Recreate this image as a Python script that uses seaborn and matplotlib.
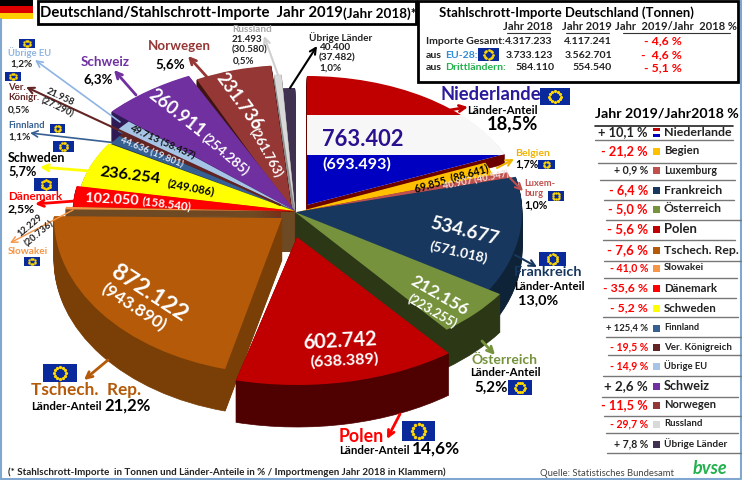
import numpy as np
import matplotlib
matplotlib.use("Agg")
import matplotlib.pyplot as plt
from matplotlib.patches import Wedge, Rectangle
from matplotlib.transforms import Affine2D
import seaborn as sns

# ==========================
# DATA
# ==========================
countries = ["Niederlande", "Begien", "Luxemburg", "Frankreich", "Österreich", "Polen",
             "Tschech. Rep.", "Slowakei", "Dänemark", "Schweden", "Finnland",
             "Ver. Königreich", "Übrige EU", "Schweiz", "Norwegen", "Russland", "Übrige Länder"]
imports_2019 = [763402, 69855, 40907, 534677, 212156, 602742, 872122, 12229, 102050,
                236254, 44636, 21958, 49713, 260911, 231736, 21493, 40400]
change_labels = ["+ 10,1 %", "- 21,2 %", "+ 0,9 %", "- 6,4 %", "- 5,0 %", "- 5,6 %", "- 7,6 %",
                 "- 41,0 %", "- 35,6 %", "- 5,2 %", "+ 125,4 %", "- 19,5 %", "- 14,9 %",
                 "+ 2,6 %", "- 11,5 %", "- 29,7 %", "+ 7,8 %"]
summary_rows = ["Importe Gesamt:", "aus", "aus"]
summary_2018 = ["4.317.233", "3.733.123", "584.110"]
summary_2019 = ["4.117.241", "3.562.701", "554.540"]
summary_change = ["- 4,6 %", "-  4,6 %", "- 5,1 %"]

# ==========================
# STYLE / LAYOUT
# ==========================
top_hex = ["#ffffff", "#ffc000", "#c0504d", "#17375e", "#76923c", "#c00000", "#b45a08", "#f79646",
           "#ff0000", "#ffff00", "#376092", "#632523", "#a6c4e6", "#7030a0", "#953735", "#d9d9d9", "#403151"]
side_hex = ["#6b0000", "#7a5c00", "#6b0000", "#0e2238", "#2c3716", "#4f0000", "#7a3f06", "#6e4a24",
            "#8a0000", "#8a8a00", "#1f3756", "#3a1514", "#5a7290", "#2f1a55", "#3e1412", "#8c8c8c", "#403151"]
# centre x, centre y (pixels), radii, depth per slice
cx = [307, 297, 297, 296, 295, 297, 282, 288, 295, 295, 295, 295, 295, 295, 292, 295, 295]
cy = [205, 212, 212, 212, 212, 237, 218, 211, 211, 211, 211, 211, 211, 211, 211, 211, 211]
rx = [215, 205, 220, 226, 245, 245, 228, 222, 222, 218, 215, 215, 222, 245, 220, 222, 200]
ry = [129, 125, 135, 150, 150, 148, 156, 135, 135, 130, 130, 130, 135, 150, 146, 137, 123]
depth = [10, 3, 18, 38, 38, 42, 42, 40, 6, 4, 2, 2, 2, 30, 42, 40, 40]
draw_order = [16, 15, 14, 13, 12, 11, 10, 9, 8, 7, 0, 1, 2, 3, 4, 6, 5]
FS = 0.8

sns.set_theme(style="white")
plt.rcParams["font.family"] = ["Lato", "DejaVu Sans"]
top_colors = sns.color_palette(top_hex)
side_colors = sns.color_palette(side_hex)

fig = plt.figure(figsize=(7.42, 4.8), dpi=100, facecolor="white")

# ==========================
# PIE
# ==========================
pie_ax = fig.add_axes([0, 0, 1, 1])
wedges, _ = pie_ax.pie(imports_2019, startangle=90, counterclock=False, colors=top_colors,
                       wedgeprops={"linewidth": 0})
pie_ax.set_aspect("auto")
pie_ax.set_xlim(0, 742)
pie_ax.set_ylim(0, 480)
pie_ax.axis("off")


def place(i, drop=0):
    return Affine2D().scale(rx[i], ry[i]).translate(cx[i], 480 - cy[i] - drop) + pie_ax.transData


for n, i in enumerate(draw_order):
    w = wedges[i]
    w.set_transform(place(i))
    w.set_zorder(10 + 2 * n + 1)
    for d in np.arange(depth[i], 0, -1):
        pie_ax.add_patch(Wedge((0, 0), 1, w.theta1, w.theta2, transform=place(i, d),
                               facecolor=side_colors[i], edgecolor=side_colors[i], lw=0.5,
                               zorder=10 + 2 * n))

# centre block under the apex
pie_ax.add_patch(Rectangle((281, 480 - 252), 15, 40, facecolor="#6e4a24", lw=0, zorder=10 + 2 * 9 + 0.5))

# Dutch flag on the first slice
for y0, y1, col in [(60, 115, "#c00000"), (115, 155, "#f7f7f7"), (155, 215, "#0000c0")]:
    r = Rectangle((300, 480 - y1), 220, y1 - y0, facecolor=col, lw=0,
                  zorder=wedges[0].get_zorder() + 0.5)
    pie_ax.add_patch(r)
    r.set_clip_path(wedges[0])

# ==========================
# OVERLAY (pixel coordinates)
# ==========================
ax = fig.add_axes([0, 0, 1, 1], facecolor="none")
ax.set_xlim(0, 742)
ax.set_ylim(480, 0)
ax.axis("off")


def txt(x, y, s, size=9, color="black", weight="bold", rot=0, ha="left", **kw):
    ax.text(x, y, s, fontsize=size * FS, color=color, fontweight=weight, rotation=rot, ha=ha,
            va="center", rotation_mode="anchor", zorder=6, **kw)


def ctxt(x, y, s, size, color="white", rot=0):
    txt(x, y, s, size, color, rot=rot, ha="center")


def arrow(x0, y0, x1, y1, color, lw=2.0):
    ax.annotate("", xy=(x1, y1), xytext=(x0, y0),
                arrowprops=dict(arrowstyle="->", color=color, lw=lw, shrinkA=0, shrinkB=0,
                                mutation_scale=11))


def eu_flag(x0, y0, x1, y1):
    ax.add_patch(Rectangle((x0, y0), x1 - x0, y1 - y0, facecolor="#0a2a9c", lw=0, zorder=30))
    t = np.linspace(0, 2 * np.pi, 12, endpoint=False)
    rr = (y1 - y0) * 0.33
    s = max((y1 - y0) * 0.3, 1.5)
    ax.scatter((x0 + x1) / 2 + rr * np.cos(t), (y0 + y1) / 2 + rr * np.sin(t), s=s, marker="o",
               color="#ffd800", lw=0, zorder=31)


# frame and German flag
ax.plot([1, 1], [19, 479], color="#7fa7cf", lw=1.5)
ax.plot([1, 741, 741], [478.5, 478.5, 0], color="#7fa7cf", lw=1.5)
ax.add_patch(Rectangle((0, 0), 33, 6, facecolor="black", lw=0))
ax.add_patch(Rectangle((0, 6), 33, 6.5, facecolor="#dd0000", lw=0))
ax.add_patch(Rectangle((0, 12.5), 33, 6.5, facecolor="#ffce00", lw=0))

# title box
ax.add_patch(Rectangle((37.5, 1), 378, 23, facecolor="white", edgecolor="black", lw=2, zorder=5))
txt(40, 13, "Deutschland/Stahlschrott-Importe  Jahr 2019", 13.4)
txt(343, 14, "(Jahr 2018)*", 12.2)

# summary box
ax.add_patch(Rectangle((417.5, 1), 320, 81, facecolor="white", edgecolor="black", lw=2, zorder=5))
txt(439, 13, "Stahlschrott-Importe Deutschland (Tonnen)", 11.8)
for x, s, x0, x1 in [(528, "Jahr 2018", 507, 550), (587, "Jahr 2019", 566, 609),
                     (676, "Jahr  2019/Jahr  2018 %", 623, 730)]:
    txt(x, 27, s, 10, "#222222", ha="center")
    ax.plot([x0, x1], [33, 33], color="#333333", lw=0.8, zorder=6)
row_y = [41, 55, 68]
for y, lab, a, b, c, xa in zip(row_y, summary_rows, summary_2018, summary_2019, summary_change, [552, 553, 555]):
    txt(426, y, lab, 9.4, "#222222")
    txt(xa, y, a, 9.4, "#222222", ha="right")
    txt(612, y, b, 9.4, "#222222", ha="right")
    txt(682, y, c, 11, "#ff0000", ha="right")
txt(445, 55, "EU-28:", 9.4, "#2e8bd6")
txt(445, 68, "Drittländern:", 9.4, "#22b14c")
eu_flag(478, 48, 499, 61)

# ==========================
# RIGHT TABLE
# ==========================
txt(595, 114, "Jahr 2019/Jahr2018 %", 12.7)
ax.plot([595, 733], [126, 126], color="#222222", lw=1.2)
table_y = [132, 151, 170, 190, 209, 229, 250, 268, 288, 308, 328, 347, 366, 386, 405, 424, 444]
name_size = [11.2, 10.3, 9.5, 11, 11, 11.7, 11, 9, 10.2, 10.4, 8.2, 8.8, 8.5, 11.4, 10, 8.7, 9]
pct_size = [11.5, 11.5, 9.5, 11.5, 11.5, 12, 12, 9.5, 11, 11, 8.5, 9.5, 9.5, 12, 11.5, 9.5, 9.5]
swatches = ["#7f7fd0", "#ffc000", "#c0504d", "#17375e", "#76923c", "#c00000", "#b45a08", "#f79646",
            "#ff0000", "#ffff00", "#376092", "#632523", "#a6c4e6", "#7030a0", "#953735", "#d9d9d9", "#403151"]
sep_y = [140, 163, 180, 200, 220, 240, 261, 278, 298, 317, 337, 355, 376, 397, 416, 433, 453]
sep_x = [(595, 733), (598, 736), (600, 735), (604, 734), (606, 742), (603, 735), (604, 742), (604, 737),
         (608, 736), (603, 738), (606, 742), (608, 742), (603, 742), (602, 738), (604, 742), (606, 738), (607, 742)]
for y, name, ch, sz, psz, col, sy, (sx0, sx1) in zip(table_y, countries, change_labels, name_size, pct_size,
                                                     swatches, sep_y, sep_x):
    txt(648, y, ch, psz, "#ff0000" if ch.startswith("-") else "#222222", ha="right")
    if name == "Niederlande":
        ax.add_patch(Rectangle((653, y - 4.5), 7, 3, facecolor="#c00000", lw=0))
        ax.add_patch(Rectangle((653, y - 1.5), 7, 3, facecolor="white", lw=0))
        ax.add_patch(Rectangle((653, y + 1.5), 7, 3, facecolor="#0000c0", lw=0))
    else:
        ax.add_patch(Rectangle((653, y - 3.5), 7, 7, facecolor=col, lw=0))
    txt(664, y, name, sz, "#222222")
    ax.plot([sx0, sx1], [sy, sy], color="#777777", lw=1.0)

# ==========================
# SLICE LABELS
# ==========================
ctxt(363, 140, "763.402", 19.7, "#2a0f8f")
ctxt(357, 164, "(693.493)", 14.5)
ctxt(451, 178, "69.855  (88.641)", 9.5, "black", rot=16)
ctxt(476, 181, "40.907 (40.547)", 8.5, "#f2dcdb", rot=11)
ctxt(465, 231, "534.677", 17, rot=-14)
ctxt(459, 252, "(571.018)", 12.5, rot=-13)
ctxt(440, 296, "212.156", 15.5, rot=-30)
ctxt(432, 311, "(223.255)", 11.5, rot=-30)
ctxt(340, 341, "602.742", 18, rot=3)
ctxt(344, 361, "(638.389)", 14.5, rot=3)
ctxt(149, 293, "872.122", 21, rot=-33)
ctxt(134, 307, "(943.890)", 15.5, rot=-33)
txt(85, 198, "102.050", 13, "white", rot=-3)
ctxt(167, 204, "(158.540)", 10.5, rot=-7)
txt(100, 172, "236.254", 14.8, "black", rot=-7)
ctxt(191, 187, "(249.086)", 10, "black", rot=-11)
ctxt(162, 143, "49.713 (58.437)", 9, "#111111", rot=-24)
ctxt(152, 153, "44.636 (19.801)", 8.5, "#dce6f2", rot=-22)
ctxt(177, 113, "260.911", 16, rot=-38)
ctxt(225, 155, "(254.285)", 12, rot=-40)
ctxt(239, 102, "231.736", 16, rot=-54)
ctxt(266, 153, "(261.763)", 11.5, rot=-61)

# ==========================
# OUTSIDE LABELS
# ==========================
txt(441, 94, "Niederlande", 16.5, "#2a1a9c")
eu_flag(540, 88, 570, 105)
arrow(450, 110, 468, 107, "#c00000")
txt(467, 111, "Länder-Anteil", 10.4)
txt(487, 124, "18,5%", 16.5)

txt(515, 154, "Belgien", 9.4, "#f0b400")
txt(515, 164, "1,7%", 9.5)
eu_flag(538, 160, 555, 169)
arrow(497, 168, 514, 159, "#f0b400", 1.5)

txt(524, 184, "Luxem-", 8.3, "#c0504d")
txt(524, 194, "burg", 8.3, "#c0504d")
eu_flag(548, 191, 564, 201)
txt(524, 205, "1,0%", 9.5)
arrow(510, 178, 523, 191, "#c0504d", 1.5)

txt(514, 272, "Frankreich", 13, "#17375e")
txt(514, 286, "Länder-Anteil", 10.4)
txt(518, 300, "13,0%", 13)
eu_flag(539, 252, 566, 266)
arrow(515, 255, 537, 267, "#17375e", 1.5)

txt(471, 360, "Österreich", 12.5, "#76923c")
txt(470, 373, "Länder-Anteil", 10.4)
txt(474, 388, "5,2%", 13.5)
eu_flag(508, 380, 532, 395)
arrow(482, 341, 495, 355, "#76923c")

txt(339, 436, "Polen", 16, "#ff0000")
txt(339, 451, "Länder-Anteil", 10.4)
txt(412, 449, "14,6%", 15.5)
eu_flag(402, 421, 435, 441)
arrow(400, 414, 387, 439, "#ff0000")

txt(31, 390, "Tschech.  Rep.", 15.5, "#b45a08")
txt(31, 407, "Länder-Anteil", 10.4)
txt(104, 406, "21,2%", 15)
eu_flag(43, 364, 77, 382)
arrow(108, 360, 84, 380, "#b45a08")

txt(8, 252, "Slowakei", 9, "#f79646")
eu_flag(24, 257, 40, 266)
arrow(73, 210, 10, 243, "#f79646", 1.0)
ctxt(30, 226, "12.229", 8.5, "#222222", rot=40)
ctxt(39, 234, "(20.736)", 8.5, "#222222", rot=40)

txt(8, 196, "Dänemark", 10.5, "#ff0000")
txt(8, 209, "2,5%", 11)
eu_flag(34, 178, 58, 191)
arrow(75, 201, 35, 204, "#ff0000")

txt(8, 158, "Schweden", 11.3)
txt(8, 171, "5,7%", 11.5)
eu_flag(53, 141, 74, 152)
arrow(90, 171, 40, 167, "#ffff00")

txt(8, 126, "Finnland", 8.5, "#376092")
txt(8, 137, "1,1%", 9, "#222222")
eu_flag(50, 124, 65, 133)
arrow(117, 143, 30, 133, "#376092", 1.2)

txt(8, 88, "Ver.", 8.7, "#632523")
txt(8, 98, "Königr.", 8.7, "#632523")
txt(8, 110, "0,5%", 9, "#222222")
eu_flag(5, 72, 21, 81)
arrow(280, 205, 26, 87, "#632523", 1.5)
ctxt(60, 97, "21.958", 8.5, "#222222", rot=-25)
ctxt(57, 108, "(27.290)", 8.5, "#222222", rot=-25)

txt(8, 53, "Übrige EU", 8.6, "#8db4e2")
txt(10, 64, "1,2%", 9, "#222222")
eu_flag(19, 39, 35, 48)
arrow(120, 122, 35, 60, "#8db4e2", 1.2)

txt(81, 62, "Schweiz", 12, "#7030a0")
txt(84, 79, "6,3%", 12)
arrow(136, 95, 114, 70, "#7030a0")

txt(148, 46, "Norwegen", 12, "#953735")
txt(155, 64, "5,6%", 12)
arrow(207, 77, 188, 56, "#953735")

txt(232, 30, "Russland", 9, "#a6a6a6")
txt(232, 40, "21.493", 8.8, "#222222")
txt(232, 50, "(30.580)", 8.8, "#222222")
txt(233, 61, "0,5%", 8.8, "#222222")
arrow(278, 75, 264, 36, "#d0d0d0", 1.5)

txt(309, 38, "Übrige Länder", 9, "#222222")
txt(319, 47, "40.400", 9, "#222222")
txt(319, 58, "(37.482)", 9, "#222222")
txt(319, 68, "1,0%", 9, "#222222")
arrow(290, 88, 317, 46, "black", 1.5)

# ==========================
# FOOTER
# ==========================
txt(8, 472, "(* Stahlschrott-Importe  in Tonnen und Länder-Anteile in % / Importmengen Jahr 2018 in Klammern)", 8.9, "#222222")
txt(540, 473, "Quelle: Statistisches Bundesamt", 8.5, "#444444", weight="normal")
ax.text(693, 469, "bvse", fontsize=13, color="#22b14c", style="italic", fontweight="bold", va="center")

fig.savefig("out.png", dpi=100)
